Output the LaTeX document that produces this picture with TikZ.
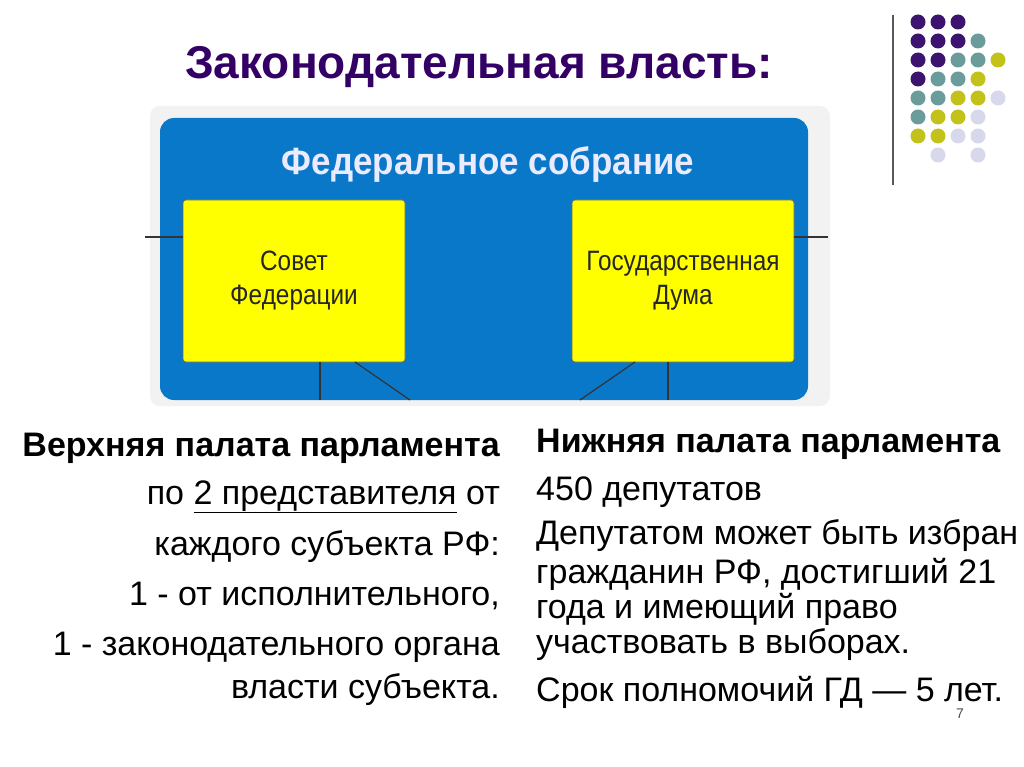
\documentclass[tikz,border=0pt]{standalone}
\usepackage{fontspec}
\setmainfont{Liberation Sans}
\definecolor{ttl}{HTML}{330066}
\definecolor{fblue}{HTML}{0A78C8}
\definecolor{fyel}{HTML}{FFFF00}
\definecolor{dP}{HTML}{3C1470}
\definecolor{dT}{HTML}{6A9C9C}
\definecolor{dY}{HTML}{C2C21A}
\definecolor{dL}{HTML}{D8D8EC}
\tikzset{
  ybox/.style={draw=black!60, line width=0.6pt, fill=fyel, rounded corners=3pt},
  ln/.style={draw=black!80, line width=1.2pt},
  lt/.style={anchor=base east, inner sep=0pt, font=\fontsize{34}{38}\selectfont},
  rt/.style={anchor=base west, inner sep=0pt, font=\fontsize{34}{38}\selectfont},
  dot/.style={circle, inner sep=0pt, minimum size=15pt}
}
\begin{document}
\begin{tikzpicture}[x=1pt,y=-1pt]
\useasboundingbox (0,0) rectangle (1024,767);
\fill[white] (0,0) rectangle (1024,767);
% decoration
\draw[gray!70!black, line width=1.2pt] (893,15) -- (893,185);
\foreach \c/\x in {dP/918,dP/938,dP/958}{\node[dot,fill=\c] at (\x,22) {};}
\foreach \c/\x in {dP/918,dP/938,dP/958,dT/978}{\node[dot,fill=\c] at (\x,41) {};}
\foreach \c/\x in {dP/918,dP/938,dT/958,dT/978,dY/998}{\node[dot,fill=\c] at (\x,60) {};}
\foreach \c/\x in {dP/918,dT/938,dT/958,dY/978}{\node[dot,fill=\c] at (\x,79) {};}
\foreach \c/\x in {dT/918,dT/938,dY/958,dY/978,dL/998}{\node[dot,fill=\c] at (\x,98) {};}
\foreach \c/\x in {dT/918,dY/938,dY/958,dL/978}{\node[dot,fill=\c] at (\x,117) {};}
\foreach \c/\x in {dY/918,dY/938,dL/958,dL/978}{\node[dot,fill=\c] at (\x,136) {};}
\foreach \c/\x in {dL/938,dL/978}{\node[dot,fill=\c] at (\x,155) {};}
% title
\node[font=\bfseries\fontsize{46}{50}\selectfont, text=ttl] (title) at (479,67) {Законодательная власть:};
% blue box
\fill[black!5, rounded corners=10pt] (150,106) rectangle (830,406);
\node[fill=fblue, rounded corners=14pt, minimum width=648pt, minimum height=282pt, inner sep=0pt] (fs) at (484,259) {};
\node[font=\bfseries\fontsize{38}{40}\selectfont, text=white!92!blue, xscale=0.92] (fst) at (488,165) {Федеральное собрание};
\node[ybox, minimum width=222pt, minimum height=162pt] (sf) at (294,281) {};
\node[ybox, minimum width=222pt, minimum height=162pt] (gd) at (683,281) {};
\node[align=center, font=\fontsize{28}{34}\selectfont, xscale=0.87, text=black!85] at (sf.center) {Совет\\Федерации};
\node[align=center, font=\fontsize{28}{34}\selectfont, xscale=0.87, text=black!85] at (gd.center) {Государственная\\Дума};
\coordinate (l1) at (145,237); \coordinate (r1) at (828,237);
\draw[ln] (l1) -- (sf.west |- l1);
\draw[ln] (gd.east |- r1) -- (r1);
\coordinate (a1) at (320,400); \coordinate (a2) at (410,400);
\coordinate (b1) at (580,400); \coordinate (b2) at (668,400);
\draw[ln] (sf.south -| a1) -- (a1);
\draw[ln] (355,362) -- (a2);
\draw[ln] (635,362) -- (b1);
\draw[ln] (gd.south -| b2) -- (b2);
% left text
\node[lt, font=\bfseries\fontsize{34}{38}\selectfont] (L0) at (500,456) {Верхняя палата парламента};
\node[lt] (L1) at (500,504) {по \underline{2 представителя} от};
\node[lt] (L2) at (500,555) {каждого субъекта РФ:};
\node[lt] (L3) at (500,605) {1 - от исполнительного,};
\node[lt] (L4) at (500,655) {1 - законодательного органа};
\node[lt] (L5) at (500,698) {власти субъекта.};
% right text
\node[rt, font=\bfseries\fontsize{34}{38}\selectfont] (R0) at (536,452) {Нижняя палата парламента};
\node[rt] (R1) at (536,500) {450 депутатов};
\node[rt] (R2) at (536,544) {Депутатом может быть избран};
\node[rt] (R3) at (536,583) {гражданин РФ, достигший 21};
\node[rt] (R4) at (536,618) {года и имеющий право};
\node[rt] (R5) at (536,653) {участвовать в выборах.};
\node[rt] (R6) at (536,701) {Срок полномочий ГД — 5 лет.};
\node[font=\fontsize{14}{16}\selectfont, text=black!70] (pg) at (960,714) {7};
\end{tikzpicture}
\end{document}
